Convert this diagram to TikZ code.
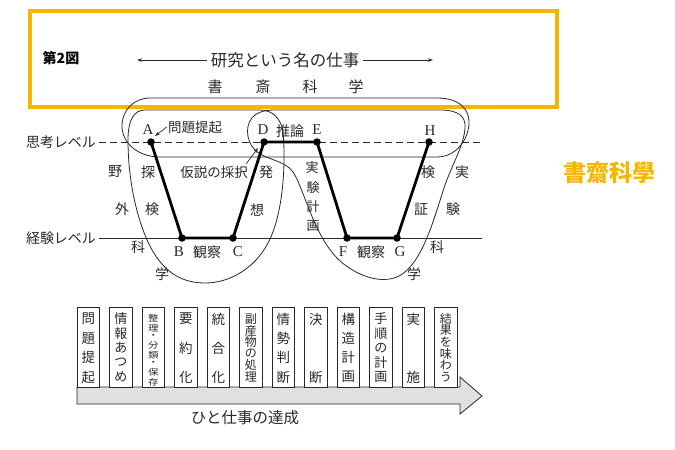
\documentclass[tikz,border=0pt]{standalone}
\usepackage{fontspec}
\setmainfont{Liberation Serif}
\newfontfamily\cjk{Noto Sans CJK JP}
\usetikzlibrary{arrows.meta}
\definecolor{gold}{RGB}{245,182,0}
\definecolor{ink}{RGB}{40,40,40}
\definecolor{barfill}{RGB}{224,224,224}
\newcommand\vcol[5]{%
  \foreach \ch [count=\i] in {#5} {%
    \node[font=\cjk\fontsize{#4pt}{#4pt}\selectfont, inner sep=0pt, text=ink] (#1c\i) at (#2, {319+(\i-1)*58/(#3-1)}) {\ch};
  }}
\begin{document}
\begin{tikzpicture}[x=1pt,y=-1pt,
 jp/.style={font=\cjk\fontsize{#1pt}{#1pt}\selectfont, inner sep=0pt, text=ink},
 jp/.default=14,
 lat/.style={font=\fontsize{15pt}{15pt}\selectfont, inner sep=0pt, text=ink},
 loopline/.style={line width=0.8pt, draw=ink},
 level/.style={line width=0.8pt, draw=ink},
 walk/.style={line width=2.8pt, draw=black, line join=round},
 dot/.style={circle, fill=black, inner sep=0pt, minimum size=7.5pt},
 smallarr/.style={line width=0.7pt, draw=ink, -{Stealth[length=5pt,width=3.5pt]}},
 stepbox/.style={draw=ink, line width=0.7pt, fill=white, minimum width=22.5pt, minimum height=80pt, inner sep=0pt},
 squat/.style={font=\cjk\fontsize{10.5pt}{10.5pt}\selectfont, inner sep=0pt, text=ink},
]
\useasboundingbox (0,0) rectangle (675,450);

% frame
\node[draw=gold, line width=4pt, minimum width=527pt, minimum height=96pt, inner sep=0pt] (frame) at (293.5,59) {};
\node[font=\cjk\bfseries\fontsize{14pt}{14pt}\selectfont, inner sep=0pt] (fig) at (61,58) {第2図};
\node[jp=16.5, inner sep=4pt] (title) at (285,60) {研究という名の仕事};
\coordinate (tl) at (137,60);
\coordinate (tr) at (433,60);
\draw[smallarr] (title.west) -- (tl);
\draw[smallarr] (title.east) -- (tr);
\node[jp=15] (s1) at (215,87) {書};
\node[jp=15] (s2) at (263,87) {斎};
\node[jp=15] (s3) at (310,87) {科};
\node[jp=15] (s4) at (356,87) {学};
\node[font=\cjk\bfseries\fontsize{23pt}{23pt}\selectfont, text=gold, inner sep=0pt] (trad) at (609,173) {書齋科學};

% levels
\node[jp=14] (lv1) at (61,142) {思考レベル};
\node[jp=14] (lv2) at (61,238) {経験レベル};
\coordinate (thR) at (482,142);
\coordinate (exR) at (482,238);
\draw[level, dash pattern=on 7pt off 4pt] ([xshift=3pt]lv1.east) -- (thR);
\draw[level] ([xshift=3pt]lv2.east) -- (exR);

% loops
\draw[loopline] (150,98) -- (437,98) .. controls (460,98) and (470,110) .. (469,124)
  .. controls (468,140) and (456,157) .. (437,157) -- (160,157)
  .. controls (138,157) and (122,143) .. (122,126) .. controls (122,110) and (134,98) .. (150,98) -- cycle;
\draw[loopline] (145,110) -- (260,110) .. controls (272,110) and (281,118) .. (283,132)
  .. controls (286,165) and (283,215) .. (268,243) .. controls (255,268) and (230,283) .. (205,283)
  .. controls (175,283) and (157,265) .. (145,235) .. controls (133,205) and (128,170) .. (128,140)
  .. controls (128,120) and (134,110) .. (145,110) -- cycle;
\draw[loopline] (278,110) -- (440,110) .. controls (458,110) and (466,116) .. (465,128)
  .. controls (464,145) and (452,165) .. (445,185) .. controls (435,215) and (425,255) .. (405,272)
  .. controls (390,285) and (365,280) .. (345,265) .. controls (315,243) and (305,190) .. (293,172)
  .. controls (285,160) and (265,160) .. (255,150) .. controls (245,140) and (245,122) .. (255,115)
  .. controls (262,110) and (270,110) .. (278,110) -- cycle;

% walk
\coordinate (A) at (151,142);
\coordinate (B) at (182,238);
\coordinate (C) at (233,238);
\coordinate (D) at (264,142);
\coordinate (E) at (317,142);
\coordinate (F) at (347,238);
\coordinate (G) at (397,238);
\coordinate (H) at (429,142);
\draw[walk] (A) -- (B) -- (C) -- (D) -- (E) -- (F) -- (G) -- (H);
\foreach \p in {A,B,C,D,E,F,G,H} \node[dot] (dot\p) at (\p) {};

\node[lat] (lA) at (148,130) {A};
\node[lat] (lB) at (179,252) {B};
\node[lat] (lC) at (238,252) {C};
\node[lat] (lD) at (263,130) {D};
\node[lat] (lE) at (317,130) {E};
\node[lat] (lF) at (343,252) {F};
\node[lat] (lG) at (400,252) {G};
\node[lat] (lH) at (430,131) {H};

\node[jp=13.5] (mon) at (195,127) {問題提起};
\coordinate (monT) at (155,136);
\draw[smallarr] ([xshift=-1pt]mon.west) -- (monT);
\node[jp=14] (sui) at (290,131) {推論};
\node[jp=14] (kan1) at (207,252) {観察};
\node[jp=14] (kan2) at (371,252) {観察};
\node[jp=13.5] (kas) at (214,172) {仮説の採択};
\coordinate (kasS) at (246,164);
\coordinate (kasT) at (258,148);
\draw[smallarr] (kasS) -- (kasT);

\node[jp=14] (ya1) at (115,172) {野};
\node[jp=14] (ya2) at (122,209) {外};
\node[jp=14] (ya3) at (138,247) {科};
\node[jp=14] (ya4) at (162,274) {学};
\node[jp=14] (ta1) at (148,172) {探};
\node[jp=14] (ta2) at (152,209) {検};
\node[jp=14] (ha1) at (266,172) {発};
\node[jp=14] (ha2) at (257,210) {想};
\node[jp=13] (jk1) at (312,168) {実};
\node[jp=13] (jk2) at (313,188) {験};
\node[jp=13] (jk3) at (313,207) {計};
\node[jp=13] (jk4) at (313,226) {画};
\node[jp=14] (ks1) at (428,172) {検};
\node[jp=14] (ks2) at (421,209) {証};
\node[jp=14] (jx1) at (462,172) {実};
\node[jp=14] (jx2) at (453,209) {験};
\node[jp=14] (jx3) at (437,247) {科};
\node[jp=14] (jx4) at (414,274) {学};

% bottom arrow
\path[draw=ink, line width=0.8pt, fill=barfill] (77,387) -- (460,387) -- (460,377) -- (482,396)
  -- (460,414) -- (460,404) -- (77,404) -- cycle;
\node[jp=15.5] (done) at (245,418) {ひと仕事の達成};

% boxes
\foreach \k in {1,...,12} \node[stepbox] (bx\k) at ({88.25+32.5*(\k-1)},347) {};
\vcol{b1}{88.25}{4}{13.5}{問,題,提,起}
\vcol{b2}{120.75}{5}{13}{情,報,あ,つ,め}
\foreach \ch/\yy [count=\i] in {整/318,理/328.5,・/336.5,分/345,類/355.5,・/363.5,保/372,存/382.5}
  \node[squat] (b3c\i) at (153.25,\yy) {\scalebox{1}[0.8]{\ch}};
\vcol{b4}{185.75}{3}{13.5}{要,約,化}
\vcol{b5}{218.25}{3}{13.5}{統,合,化}
\vcol{b6}{250.75}{6}{12}{副,産,物,の,処,理}
\vcol{b7}{283.25}{4}{13.5}{情,勢,判,断}
\vcol{b8}{315.75}{2}{13.5}{決,断}
\vcol{b9}{348.25}{4}{13.5}{構,造,計,画}
\vcol{b10}{380.75}{5}{13}{手,順,の,計,画}
\vcol{b11}{413.25}{2}{13.5}{実,施}
\vcol{b12}{445.75}{6}{12}{結,果,を,味,わ,う}
\end{tikzpicture}
\end{document}
